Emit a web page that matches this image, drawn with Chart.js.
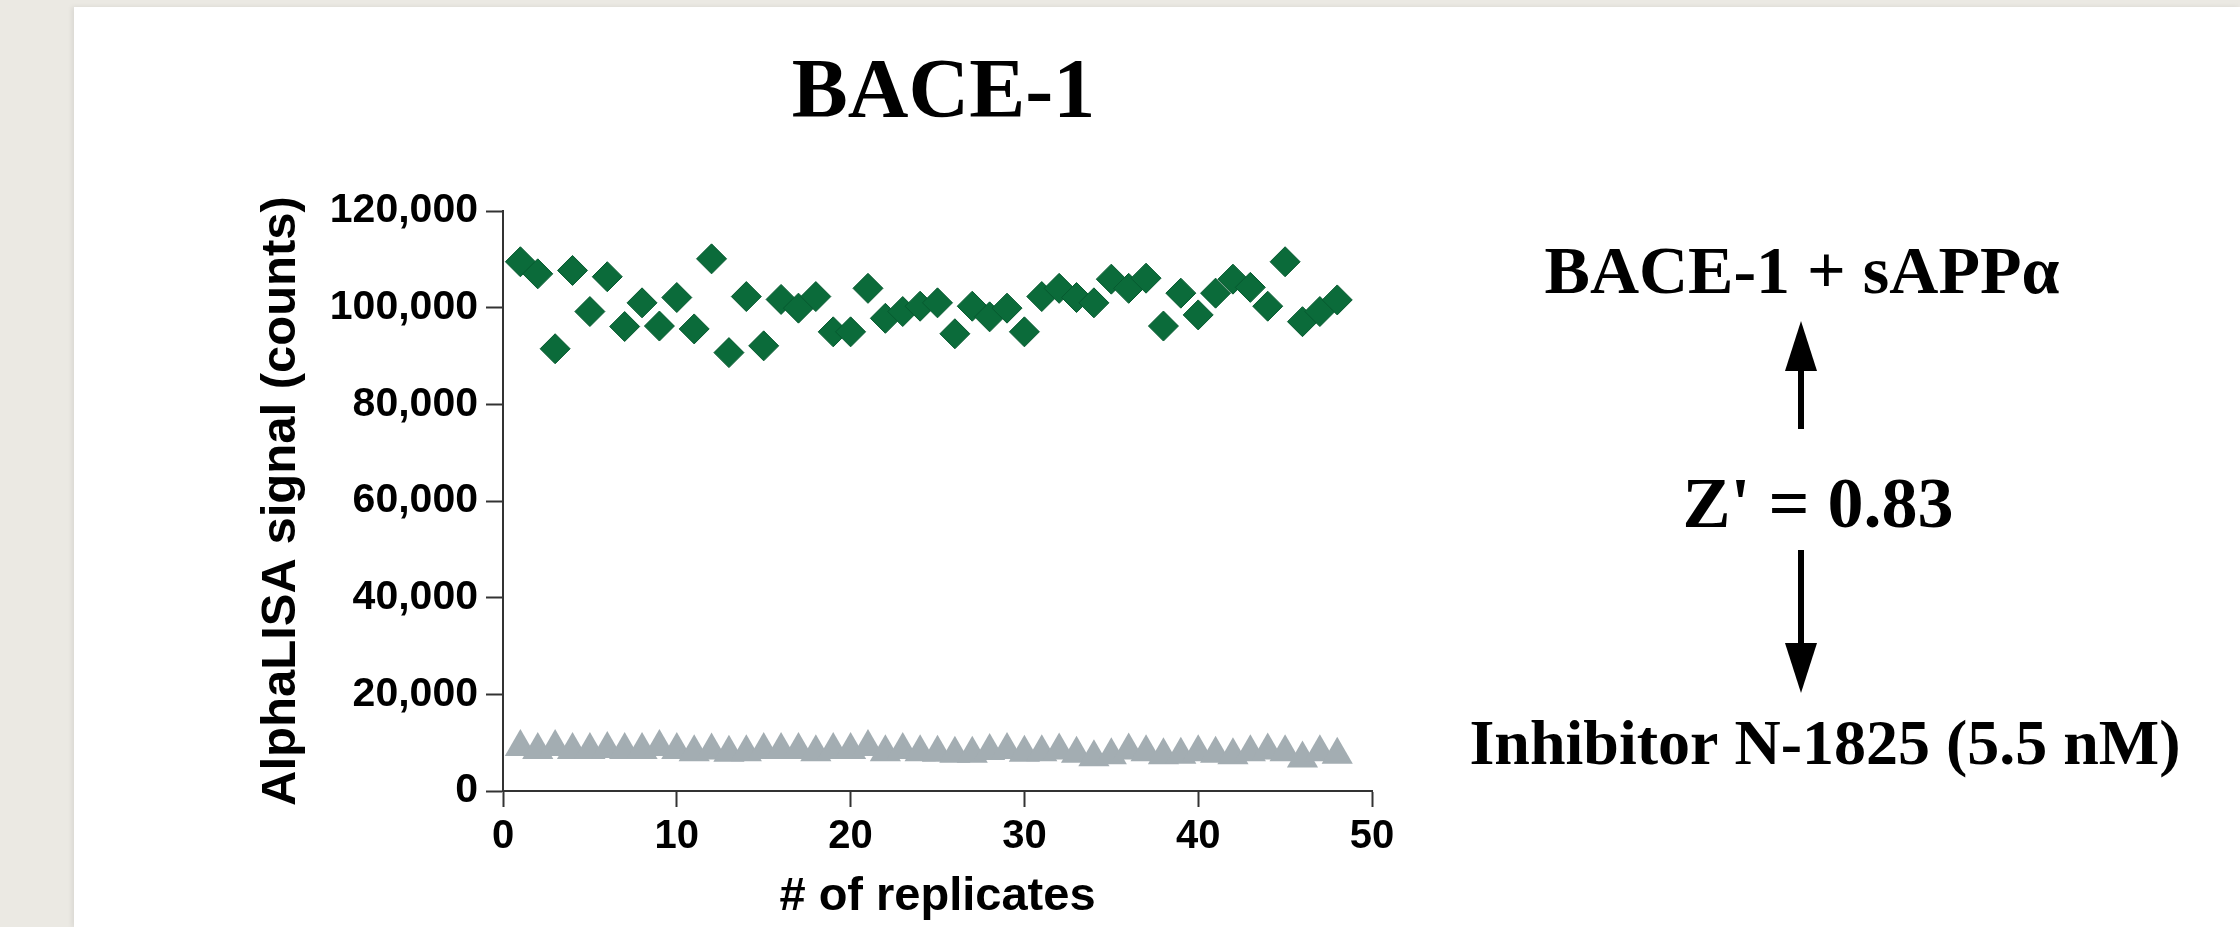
<!DOCTYPE html>
<html>
<head>
<meta charset="utf-8">
<script src="https://cdn.jsdelivr.net/npm/chart.js@4.4.1/dist/chart.umd.min.js"></script>
<style>
  html, body { margin: 0; padding: 0; }
  body { width: 2240px; height: 927px; background: #ebe9e3; position: relative; overflow: hidden; }
  #sheet { position: absolute; left: 74px; top: 7px; right: 0; bottom: 0; background: #fff; box-shadow: -2px 0 5px rgba(0,0,0,0.08); }
  #bace { position: absolute; left: 0; top: 0; }
</style>
</head>
<body>
<div id="sheet"></div>
<canvas id="bace" width="2240" height="927"></canvas>
<script>
'use strict';

// AlphaLISA counts per replicate
const substrateCounts = [
  109500, 107000, 91500, 107700, 99200, 106400, 96100, 101000, 96200, 102100,
  95600, 110100, 90700, 102300, 92100, 101700, 99900, 102300, 95000, 95000,
  104000, 97800, 99200, 100300, 101000, 94600, 100300, 98100, 99900, 95000,
  102300, 104000, 102100, 101000, 105900, 104000, 106100, 96200, 103000, 98500,
  103000, 105900, 104200, 100300, 109500, 97100, 99200, 101600
]
const inhibitorCounts = [
  9100, 8500, 9100, 8500, 8500, 8700, 8500, 8500, 9100, 8500,
  8000, 8400, 7900, 8000, 8500, 8500, 8500, 8000, 8500, 8500,
  9100, 8000, 8500, 8000, 7900, 7700, 7700, 8300, 8500, 7900,
  8000, 8400, 7700, 7000, 7400, 8400, 8000, 7400, 7500, 8000,
  7700, 7400, 8000, 8400, 8000, 6700, 8000, 7500
]
const xTicks = [0, 10, 20, 30, 40, 50]
const yTicks = [0, 20000, 40000, 60000, 80000, 100000, 120000]

const chartTitle = 'BACE-1'
const topLabel = 'BACE-1 + sAPP\u03b1'
const zLabel = "Z' = 0.83"
const bottomLabel = 'Inhibitor N-1825 (5.5 nM)'

const green = '#0b6b3a'
const grey = '#a3adb2'
const axisColor = '#333333'

function toPoints(values) {
  return values.map((v, idx) => ({ x: idx + 1, y: v }))
}

function drawArrow(ctx, x, yFrom, yTo) {
  const dir = yTo > yFrom ? 1 : -1
  const headLen = 50
  ctx.beginPath()
  ctx.lineWidth = 6
  ctx.moveTo(x, yFrom)
  ctx.lineTo(x, yTo - dir * headLen)
  ctx.stroke()
  ctx.beginPath()
  ctx.moveTo(x, yTo)
  ctx.lineTo(x - 16, yTo - dir * headLen)
  ctx.lineTo(x + 16, yTo - dir * headLen)
  ctx.closePath()
  ctx.fill()
}

const annotations = {
  id: 'annotations',
  afterDraw(chart) {
    const ctx = chart.ctx
    const area = chart.chartArea
    ctx.save()
    ctx.fillStyle = '#000'
    ctx.strokeStyle = '#000'
    ctx.textAlign = 'center'
    ctx.textBaseline = 'alphabetic'

    ctx.font = 'bold 84px "Liberation Serif"'
    ctx.fillText(chartTitle, (area.left + area.right) / 2 + 6, 117)

    ctx.font = 'bold 68px "Liberation Serif"'
    ctx.fillText(topLabel, 1802, 293)
    ctx.font = 'bold 72px "Liberation Serif"'
    ctx.fillText(zLabel, 1818, 527)
    ctx.font = 'bold 64px "Liberation Serif"'
    ctx.fillText(bottomLabel, 1825, 764)

    drawArrow(ctx, 1801, 429, 321)
    drawArrow(ctx, 1801, 550, 693)
    ctx.restore()
  }
}

const ctx = document.getElementById('bace')

new Chart(ctx, {
  type: 'scatter',
  data: {
    datasets: [
      {
        label: 'Inhibitor N-1825',
        data: toPoints(inhibitorCounts),
        pointStyle: 'triangle',
        pointRadius: 18,
        pointHoverRadius: 18,
        borderWidth: 0,
        backgroundColor: grey,
        borderColor: grey
      },
      {
        label: 'BACE-1 + sAPPα',
        data: toPoints(substrateCounts),
        pointStyle: 'rectRot',
        pointRadius: 15,
        pointHoverRadius: 15,
        borderWidth: 1,
        backgroundColor: green,
        borderColor: '#075a30'
      }
    ]
  },
  options: {
    responsive: false,
    animation: false,
    clip: false,
    layout: {
      padding: { left: 252, top: 211, right: 868, bottom: 0 }
    },
    plugins: {
      legend: { display: false },
      tooltip: { enabled: false }
    },
    scales: {
      x: {
        type: 'linear',
        min: 0,
        max: 50,
        afterBuildTicks: (scale) => { scale.ticks = xTicks.map(v => ({ value: v })) },
        afterFit: (scale) => { scale.height = 136 },
        grid: { drawOnChartArea: false, drawTicks: true, tickLength: 16, tickWidth: 2, tickColor: axisColor },
        border: { display: true, color: axisColor, width: 2 },
        ticks: {
          padding: 6,
          color: '#000',
          font: { family: '"Liberation Sans"', weight: 'bold', size: 40 }
        },
        title: {
          display: true,
          text: '# of replicates',
          color: '#000',
          padding: { top: 0, bottom: 2 },
          font: { family: '"Liberation Sans"', weight: 'bold', size: 47 }
        }
      },
      y: {
        type: 'linear',
        min: 0,
        max: 120000,
        afterBuildTicks: (scale) => { scale.ticks = yTicks.map(v => ({ value: v })) },
        afterFit: (scale) => { scale.width = 251 },
        grid: { drawOnChartArea: false, drawTicks: true, tickLength: 17, tickWidth: 2, tickColor: axisColor },
        border: { display: true, color: axisColor, width: 2 },
        ticks: {
          padding: 8,
          color: '#000',
          font: { family: '"Liberation Sans"', weight: 'bold', size: 41 },
          callback: (v) => v.toLocaleString('en-US')
        },
        title: {
          display: true,
          text: 'AlphaLISA signal (counts)',
          color: '#000',
          padding: { top: 0, bottom: 0 },
          font: { family: '"Liberation Sans"', weight: 'bold', size: 49 }
        }
      }
    }
  },
  plugins: [annotations]
})
</script>
</body>
</html>
